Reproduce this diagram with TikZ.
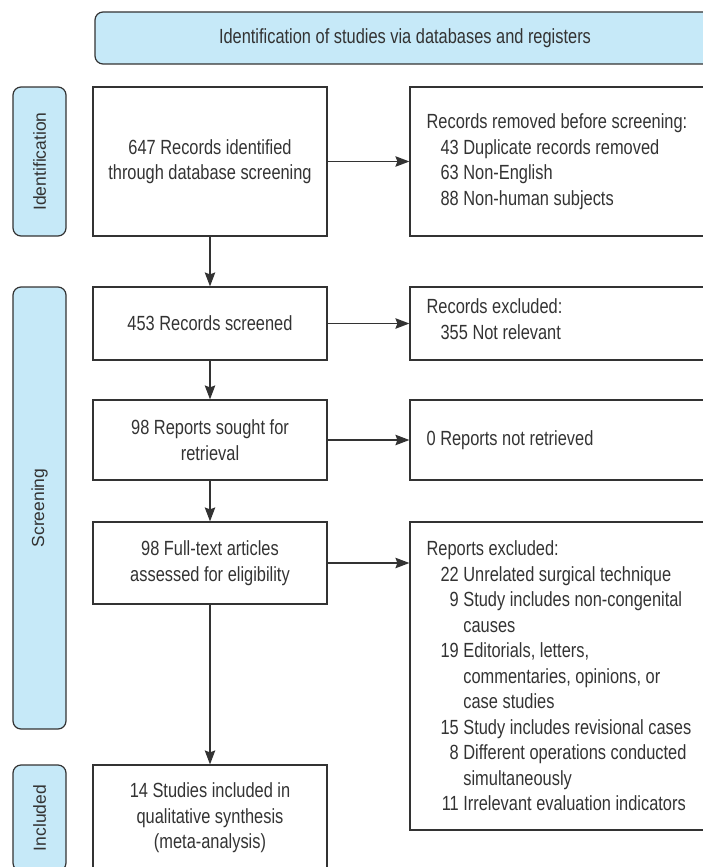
\documentclass[tikz,border=0pt]{standalone}
\usepackage{fontspec}
\setmainfont{Liberation Sans}[FakeStretch=0.8]
\newfontfamily\sidefont{Liberation Sans}
\usetikzlibrary{arrows.meta}
\definecolor{lblue}{HTML}{C6E9F8}
\definecolor{ink}{HTML}{333333}
\newcommand{\itm}[2]{\hspace*{14pt}\makebox[18.2pt][r]{#1}\ #2}
\newcommand{\cnt}[1]{\hspace*{36.8pt}#1}
\begin{document}
\begin{tikzpicture}[x=1pt,y=-1pt,
  every node/.style={text=ink},
  mainfont/.style={font=\fontsize{20.5pt}{25.5pt}\selectfont},
  box/.style={draw=ink,line width=1.2pt,inner sep=0pt,minimum width=234pt,align=center,mainfont},
  rbox/.style={draw=ink,line width=1.2pt,inner sep=0pt,minimum width=310pt},
  rtext/.style={anchor=west,align=left,inner sep=0pt,mainfont},
  side/.style={draw=ink,line width=1.2pt,fill=lblue,rounded corners=8pt,minimum width=53pt,inner sep=0pt},
  sidetext/.style={rotate=90,font=\sidefont\fontsize{17.5pt}{20pt}\selectfont},
  arr/.style={draw=ink,line width=1.3pt,-{Stealth[length=14pt,width=10.5pt,inset=2pt]}}
]
\useasboundingbox (0,0) rectangle (703,867);
\clip (0,0) rectangle (703,867);

% banner
\node[draw=ink,line width=1.2pt,fill=lblue,rounded corners=8pt,minimum width=620pt,minimum height=52pt,inner sep=0pt,mainfont] (banner) at (405,38) {Identification of studies via databases and registers};

% side labels
\node[side,minimum height=149pt] (sid) at (39.5,161.5) {};
\node[sidetext] (sidt) at (sid.center) {Identification};
\node[side,minimum height=442pt] (sscr) at (39.5,508) {};
\node[sidetext] (sscrt) at (sscr.center) {Screening};
\node[side,minimum height=106pt] (sinc) at (39.5,818) {};
\node[sidetext] (sinct) at (sinc.center) {Included};

% main column
\node[box,minimum height=149pt] (b1) at (210,161.5) {647 Records identified\\through database screening};
\node[box,minimum height=73pt] (b2) at (210,323.5) {453 Records screened};
\node[box,minimum height=80pt] (b3) at (210,440) {98 Reports sought for\\retrieval};
\node[box,minimum height=82pt] (b4) at (210,563) {98 Full-text articles\\assessed for eligibility};
\node[box,minimum height=106pt] (b5) at (210,818) {14 Studies included in\\qualitative synthesis\\(meta-analysis)};

% right column
\node[rbox,minimum height=149pt] (r1) at (565,161.5) {};
\node[rtext] (r1t) at ([xshift=17pt]r1.west) {Records removed before screening:\\
\itm{43}{Duplicate records removed}\\
\itm{63}{Non-English}\\
\itm{88}{Non-human subjects}};

\node[rbox,minimum height=73pt] (r2) at (565,323.5) {};
\node[rtext] (r2t) at ([xshift=17pt,yshift=4.5pt]r2.west) {Records excluded:\\
\hspace*{14pt}355 Not relevant};

\node[rbox,minimum height=80pt] (r3) at (565,440) {};
\node[rtext] (r3t) at ([xshift=17pt]r3.west) {0 Reports not retrieved};

\node[rbox,minimum height=308pt] (r4) at (565,676) {};
\node[rtext] (r4t) at ([xshift=17pt]r4.west) {Reports excluded:\\
\itm{22}{Unrelated surgical technique}\\
\itm{9}{Study includes non-congenital}\\
\cnt{causes}\\
\itm{19}{Editorials, letters,}\\
\cnt{commentaries, opinions, or}\\
\cnt{case studies}\\
\itm{15}{Study includes revisional cases}\\
\itm{8}{Different operations conducted}\\
\cnt{simultaneously}\\
\itm{11}{Irrelevant evaluation indicators}};

% connectors
\draw[arr] (b1.east) -- (r1.west);
\draw[arr] (b2.east) -- (r2.west);
\draw[arr] (b3.east) -- (r3.west);
\draw[arr] (b4.east) -- (b4.east -| r4.west);
\draw[arr] (b1.south) -- (b2.north);
\draw[arr] (b2.south) -- (b3.north);
\draw[arr] (b3.south) -- (b4.north);
\draw[arr] (b4.south) -- (b5.north);
\end{tikzpicture}
\end{document}
